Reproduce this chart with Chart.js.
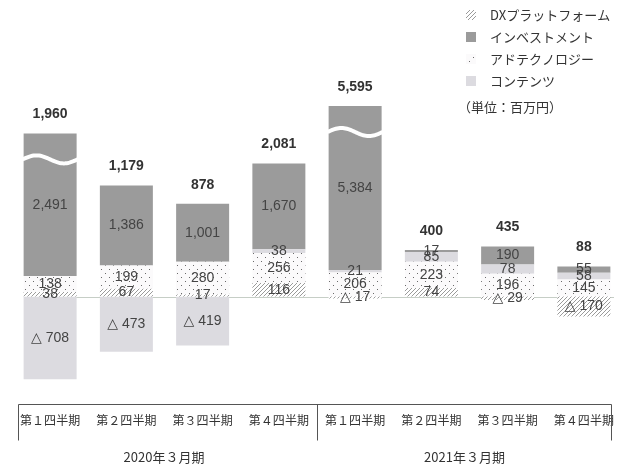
<!DOCTYPE html>
<html lang="ja">
<head>
<meta charset="UTF-8">
<script src="https://cdn.jsdelivr.net/npm/chart.js"></script>
<title>セグメント別利益</title>
<style>
  body { margin: 0; background: #fff; }
</style>
</head>
<body>
<canvas id="segChart" width="637" height="470"></canvas>

<script>
// 値は図から読み取り（単位：百万円）
const quarters = ['第１四半期', '第２四半期', '第３四半期', '第４四半期',
                  '第１四半期', '第２四半期', '第３四半期', '第４四半期'];
const fiscalYears = ['2020年３月期', '2021年３月期'];
const dxPlatform = [38, 67, 17, 116, -17, 74, -29, -170];
const adTech     = [138, 199, 280, 256, 206, 223, 196, 145];
const contents   = [-708, -473, -419, 38, 21, 85, 78, 58];
const investment = [2491, 1386, 1001, 1670, 5384, 17, 190, 55];
const totals     = [1960, 1179, 878, 2081, 5595, 400, 435, 88];
const brokenBars = [0, 4];
const legendOrder = [0, 3, 1, 2];
const unitText = '（単位：百万円）';

const numFont = "'Liberation Sans', 'DejaVu Sans', sans-serif";
const jpFont = "'Noto Sans CJK JP', sans-serif";

// 大きい値を圧縮して描く線形スケール（元の図と同じく投資セグメントが縮んでいる）
const LinearScale = Chart.LinearScale || Chart.registry.getScale('linear');
class SquashScale extends LinearScale {
  squash(v) {
    const k = this.options.knee, r = this.options.ratio;
    return v > k ? k + (v - k) * r : v;
  }
  getPixelForValue(v) {
    if (v === null || v === undefined) return NaN;
    const a = this.squash(this.min), b = this.squash(this.max);
    return this.getPixelForDecimal((this.squash(v) - a) / (b - a));
  }
  getValueForPixel(p) {
    const a = this.squash(this.min), b = this.squash(this.max);
    const t = a + this.getDecimalForPixel(p) * (b - a);
    const k = this.options.knee, r = this.options.ratio;
    return t > k ? k + (t - k) / r : t;
  }
}
SquashScale.id = 'squash';
SquashScale.defaults = LinearScale.defaults;
Chart.register(SquashScale);

function makePattern(kind) {
  const c = document.createElement('canvas');
  const g = c.getContext('2d');
  if (kind === 'hatch') {
    c.width = 4; c.height = 4;
    g.fillStyle = '#ffffff';
    g.fillRect(0, 0, 4, 4);
    g.strokeStyle = '#9a9a9a';
    g.lineWidth = 1;
    g.beginPath();
    g.moveTo(0, 4); g.lineTo(4, 0);
    g.moveTo(-1, 1); g.lineTo(1, -1);
    g.moveTo(3, 5); g.lineTo(5, 3);
    g.stroke();
  } else {
    c.width = 8; c.height = 8;
    g.fillStyle = '#fbfafb';
    g.fillRect(0, 0, 8, 8);
    g.fillStyle = '#6a6a6a';
    g.fillRect(1, 1, 1, 1);
    g.fillRect(5, 5, 1, 1);
  }
  return g.createPattern(c, 'repeat');
}

const fmt = v => (v < 0 ? '△ ' : '') + Math.abs(v).toLocaleString('en-US');

const decor = {
  id: 'decor',
  beforeDatasetsDraw(chart) {
    const {ctx, chartArea} = chart;
    const y0 = Math.round(chart.scales.y.getPixelForValue(0)) + 0.5;
    ctx.save();
    ctx.strokeStyle = '#c6cec6';
    ctx.lineWidth = 1;
    ctx.beginPath();
    ctx.moveTo(chartArea.left + 12, y0);
    ctx.lineTo(chartArea.right - 8, y0);
    ctx.stroke();
    ctx.restore();
  },
  afterDatasetsDraw(chart) {
    const {ctx, chartArea} = chart;
    const yScale = chart.scales.y;
    ctx.save();

    // 波線（省略記号）
    const inv = chart.getDatasetMeta(3).data;
    brokenBars.forEach(i => {
      const bar = inv[i];
      const left = bar.x - bar.width / 2, w = bar.width;
      const top = Math.max(bar.y, chartArea.top);
      const yc = top + 26;
      ctx.strokeStyle = '#ffffff';
      ctx.lineWidth = 4;
      ctx.beginPath();
      for (let s = 0; s <= 40; s++) {
        const x = left - 1 + (w + 2) * s / 40;
        const y = yc - 4 * Math.sin(2 * Math.PI * s / 40);
        s === 0 ? ctx.moveTo(x, y) : ctx.lineTo(x, y);
      }
      ctx.stroke();
    });

    // セグメントの値
    ctx.font = '14px ' + numFont;
    ctx.fillStyle = '#444444';
    ctx.textAlign = 'center';
    ctx.textBaseline = 'middle';
    chart.data.datasets.forEach((ds, di) => {
      chart.getDatasetMeta(di).data.forEach((bar, i) => {
        const top = Math.max(Math.min(bar.y, bar.base), chartArea.top);
        const bottom = Math.max(bar.y, bar.base);
        ctx.fillText(fmt(ds.data[i]), bar.x, (top + bottom) / 2);
      });
    });

    // 合計
    ctx.font = 'bold 14px ' + numFont;
    ctx.fillStyle = '#333333';
    totals.forEach((t, i) => {
      let pos = 0;
      chart.data.datasets.forEach(ds => { if (ds.data[i] > 0) pos += ds.data[i]; });
      const top = Math.max(yScale.getPixelForValue(pos), chartArea.top);
      ctx.fillText(fmt(t), inv[i].x, top - 19);
    });
    ctx.restore();
  },
  afterDraw(chart) {
    const {ctx, chartArea} = chart;
    const xScale = chart.scales.x;
    ctx.save();

    // 軸の枠
    const yTop = Math.round(chartArea.bottom + 2) + 0.5;
    const left = Math.round(chartArea.left + 6) + 0.5;
    const right = Math.round(chartArea.right - 11) + 0.5;
    const mid = Math.round((xScale.getPixelForValue(3) + xScale.getPixelForValue(4)) / 2) + 0.5;
    ctx.strokeStyle = '#555555';
    ctx.lineWidth = 1;
    ctx.beginPath();
    ctx.moveTo(left, yTop); ctx.lineTo(right, yTop);
    [left, mid, right].forEach(x => { ctx.moveTo(x, yTop); ctx.lineTo(x, yTop + 36); });
    ctx.stroke();

    ctx.font = '13px ' + jpFont;
    ctx.fillStyle = '#333333';
    ctx.textAlign = 'center';
    ctx.textBaseline = 'middle';
    ctx.fillText(fiscalYears[0], (left + mid) / 2 - 4, yTop + 53);
    ctx.fillText(fiscalYears[1], (mid + right) / 2, yTop + 53);

    // 凡例
    ctx.textAlign = 'left';
    legendOrder.forEach((di, k) => {
      const ds = chart.data.datasets[di];
      const y = 15 + k * 22;
      ctx.fillStyle = ds.backgroundColor;
      ctx.fillRect(466, y - 5, 10, 10);
      ctx.fillStyle = '#333333';
      ctx.fillText(ds.label, 490, y);
    });
    ctx.fillText(unitText, 458, 107);
    ctx.restore();
  }
};

const ctx = document.getElementById('segChart');
const barStyle = { borderWidth: 0, barPercentage: 0.695, categoryPercentage: 1, clip: 0 };

new Chart(ctx, {
  type: 'bar',
  data: {
    labels: quarters,
    datasets: [
      { label: 'DXプラットフォーム', data: dxPlatform, backgroundColor: makePattern('hatch'), ...barStyle },
      { label: 'アドテクノロジー', data: adTech, backgroundColor: makePattern('dots'), ...barStyle },
      { label: 'コンテンツ', data: contents, backgroundColor: '#dcdbe0', ...barStyle },
      { label: 'インベストメント', data: investment, backgroundColor: '#9b9b9b', ...barStyle }
    ]
  },
  options: {
    responsive: false,
    animation: false,
    layout: { padding: { top: 106, left: 12, right: 15, bottom: 30 } },
    plugins: { legend: { display: false }, tooltip: { enabled: false } },
    scales: {
      x: {
        stacked: true,
        grid: { display: false, drawTicks: false },
        border: { display: false },
        ticks: {
          autoSkip: false, maxRotation: 0, padding: 12,
          color: '#333333', font: { family: jpFont, size: 12 }
        }
      },
      y: {
        type: 'squash',
        knee: 400,
        ratio: 0.44,
        stacked: true,
        display: false,
        min: -900,
        max: 3200
      }
    }
  },
  plugins: [decor]
});
</script>
</body>
</html>
